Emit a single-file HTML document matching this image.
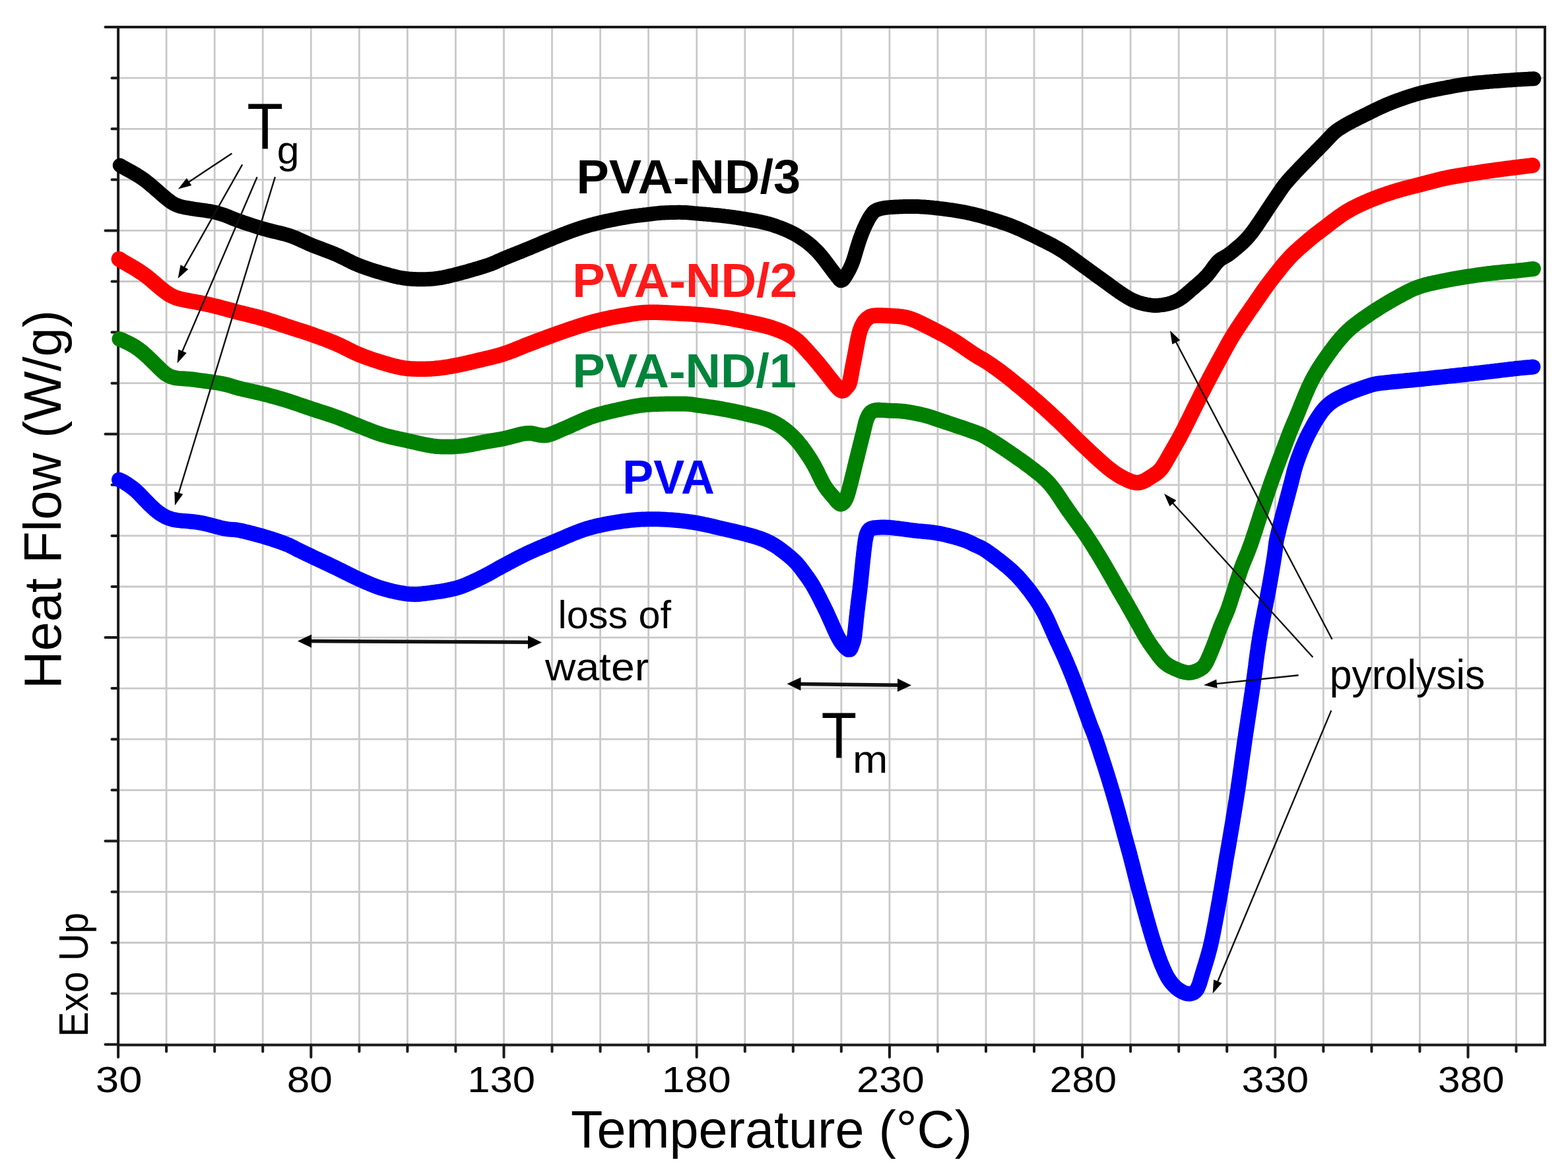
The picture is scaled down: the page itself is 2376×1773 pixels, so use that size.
<!DOCTYPE html><html><head><meta charset="utf-8"><title>DSC curves</title><style>html,body{margin:0;padding:0;background:#fff;overflow:hidden}svg{display:block}</style></head><body><svg xmlns="http://www.w3.org/2000/svg" width="2376" height="1773" viewBox="0 0 2376 1773"><rect width="2376" height="1773" fill="#fff"/><path d="M252.1,41.1V1583.6M325.2,41.1V1583.6M398.2,41.1V1583.6M471.3,41.1V1583.6M544.4,41.1V1583.6M617.4,41.1V1583.6M690.4,41.1V1583.6M763.5,41.1V1583.6M836.5,41.1V1583.6M909.6,41.1V1583.6M982.6,41.1V1583.6M1055.7,41.1V1583.6M1128.8,41.1V1583.6M1201.8,41.1V1583.6M1274.8,41.1V1583.6M1347.9,41.1V1583.6M1420.9,41.1V1583.6M1494.0,41.1V1583.6M1567.0,41.1V1583.6M1640.1,41.1V1583.6M1713.1,41.1V1583.6M1786.2,41.1V1583.6M1859.2,41.1V1583.6M1932.3,41.1V1583.6M2005.3,41.1V1583.6M2078.4,41.1V1583.6M2151.4,41.1V1583.6M2224.5,41.1V1583.6M2297.5,41.1V1583.6M179.1,118.2H2341.0M179.1,195.3H2341.0M179.1,272.3H2341.0M179.1,349.4H2341.0M179.1,426.5H2341.0M179.1,503.6H2341.0M179.1,580.7H2341.0M179.1,657.7H2341.0M179.1,734.8H2341.0M179.1,811.9H2341.0M179.1,889.0H2341.0M179.1,966.1H2341.0M179.1,1043.1H2341.0M179.1,1120.2H2341.0M179.1,1197.3H2341.0M179.1,1274.4H2341.0M179.1,1351.5H2341.0M179.1,1428.5H2341.0M179.1,1505.6H2341.0" stroke="#c9c9c9" stroke-width="2.8" fill="none"/><path d="M159.5,41.1H179.1M169.5,118.2H179.1M169.5,195.3H179.1M169.5,272.3H179.1M159.5,349.4H179.1M169.5,426.5H179.1M169.5,503.6H179.1M169.5,580.7H179.1M159.5,657.7H179.1M169.5,734.8H179.1M169.5,811.9H179.1M169.5,889.0H179.1M159.5,966.1H179.1M169.5,1043.1H179.1M169.5,1120.2H179.1M169.5,1197.3H179.1M159.5,1274.4H179.1M169.5,1351.5H179.1M169.5,1428.5H179.1M169.5,1505.6H179.1M159.5,1582.7H179.1M179.1,1583.6V1602.0M252.1,1583.6V1593.5M325.2,1583.6V1593.5M398.2,1583.6V1593.5M471.3,1583.6V1602.0M544.4,1583.6V1593.5M617.4,1583.6V1593.5M690.4,1583.6V1593.5M763.5,1583.6V1602.0M836.5,1583.6V1593.5M909.6,1583.6V1593.5M982.6,1583.6V1593.5M1055.7,1583.6V1602.0M1128.8,1583.6V1593.5M1201.8,1583.6V1593.5M1274.8,1583.6V1593.5M1347.9,1583.6V1602.0M1420.9,1583.6V1593.5M1494.0,1583.6V1593.5M1567.0,1583.6V1593.5M1640.1,1583.6V1602.0M1713.1,1583.6V1593.5M1786.2,1583.6V1593.5M1859.2,1583.6V1593.5M1932.3,1583.6V1602.0M2005.3,1583.6V1593.5M2078.4,1583.6V1593.5M2151.4,1583.6V1593.5M2224.5,1583.6V1602.0M2297.5,1583.6V1593.5" stroke="#1a1a1a" stroke-width="4" stroke-linecap="round" fill="none"/><path d="M179.1,41.1H2341.0V1583.6H179.1Z" stroke="#1a1a1a" stroke-width="4" fill="none"/><path d="M181.8,250.6 184.4,252.2 187.0,253.7 189.6,255.1 192.2,256.6 194.8,258.0 197.5,259.4 200.1,260.9 202.7,262.3 205.3,263.9 207.9,265.4 210.4,267.0 212.9,268.7 215.4,270.4 217.8,272.1 220.3,273.9 222.6,275.7 225.0,277.5 227.3,279.4 229.6,281.4 231.9,283.3 234.2,285.3 236.4,287.3 238.7,289.2 240.9,291.2 243.2,293.2 245.4,295.2 247.7,297.1 250.0,299.1 252.3,301.0 254.7,302.8 257.0,304.7 259.5,306.4 262.0,308.0 264.6,309.5 267.3,310.7 270.1,311.8 272.9,312.7 275.8,313.4 278.7,314.1 281.7,314.7 284.6,315.2 287.6,315.7 290.5,316.2 293.5,316.7 296.5,317.1 299.4,317.5 302.4,317.9 305.4,318.3 308.4,318.7 311.3,319.1 314.3,319.6 317.3,320.0 320.2,320.6 323.1,321.2 326.1,321.8 329.0,322.6 331.8,323.4 334.7,324.3 337.6,325.2 340.4,326.2 343.2,327.2 346.0,328.3 348.8,329.4 351.6,330.6 354.3,331.7 357.1,332.8 359.9,333.9 362.7,334.9 365.6,335.9 368.4,336.9 371.3,337.8 374.1,338.8 376.9,339.7 379.8,340.7 382.6,341.6 385.5,342.5 388.4,343.4 391.2,344.3 394.1,345.2 397.0,346.1 399.8,346.9 402.7,347.7 405.6,348.5 408.5,349.2 411.5,350.0 414.4,350.7 417.3,351.4 420.2,352.1 423.1,352.8 426.0,353.5 428.9,354.2 431.8,355.0 434.7,355.8 437.6,356.7 440.4,357.7 443.3,358.7 446.0,359.7 448.8,360.9 451.6,362.1 454.3,363.3 457.0,364.6 459.7,365.8 462.5,367.1 465.2,368.3 467.9,369.6 470.7,370.7 473.5,371.9 476.3,373.0 479.1,374.1 481.9,375.1 484.7,376.2 487.5,377.2 490.3,378.3 493.1,379.3 495.9,380.4 498.7,381.5 501.5,382.6 504.3,383.7 507.1,384.8 509.8,386.0 512.6,387.2 515.3,388.5 518.0,389.8 520.7,391.1 523.4,392.4 526.0,393.8 528.7,395.1 531.4,396.5 534.1,397.8 536.8,399.1 539.5,400.3 542.3,401.5 545.1,402.6 547.9,403.7 550.7,404.7 553.5,405.7 556.3,406.7 559.2,407.7 562.0,408.6 564.9,409.5 567.8,410.4 570.6,411.3 573.5,412.1 576.4,413.0 579.3,413.8 582.2,414.6 585.1,415.4 587.9,416.2 590.8,417.0 593.7,417.8 596.7,418.5 599.6,419.2 602.5,419.9 605.4,420.5 608.4,421.0 611.3,421.5 614.3,421.9 617.3,422.3 620.3,422.6 623.2,422.8 626.2,423.0 629.2,423.1 632.2,423.2 635.2,423.3 638.2,423.3 641.2,423.2 644.2,423.2 647.2,423.1 650.2,422.9 653.2,422.7 656.2,422.5 659.2,422.2 662.2,421.8 665.1,421.4 668.1,421.0 671.0,420.4 674.0,419.8 676.9,419.2 679.8,418.5 682.8,417.8 685.7,417.1 688.6,416.4 691.5,415.6 694.4,414.9 697.3,414.1 700.2,413.3 703.1,412.6 706.0,411.8 708.9,411.0 711.8,410.1 714.6,409.3 717.5,408.5 720.4,407.6 723.3,406.8 726.2,405.9 729.0,405.1 731.9,404.2 734.7,403.3 737.6,402.3 740.4,401.4 743.3,400.4 746.1,399.3 748.8,398.2 751.6,397.0 754.3,395.7 757.1,394.5 759.8,393.3 762.5,392.1 765.3,390.9 768.1,389.8 770.9,388.6 773.6,387.5 776.4,386.4 779.2,385.3 782.0,384.2 784.8,383.1 787.6,382.0 790.4,380.9 793.1,379.7 795.9,378.6 798.7,377.5 801.5,376.3 804.2,375.2 807.0,374.0 809.8,372.8 812.5,371.7 815.3,370.5 818.1,369.3 820.8,368.1 823.6,367.0 826.3,365.8 829.1,364.7 831.9,363.5 834.7,362.4 837.4,361.3 840.2,360.1 843.0,359.0 845.8,357.9 848.6,356.8 851.4,355.7 854.2,354.6 857.0,353.6 859.8,352.5 862.6,351.4 865.4,350.4 868.2,349.4 871.1,348.4 873.9,347.4 876.7,346.5 879.6,345.5 882.5,344.6 885.3,343.7 888.2,342.9 891.1,342.0 894.0,341.2 896.9,340.4 899.8,339.7 902.7,338.9 905.6,338.2 908.5,337.5 911.4,336.8 914.3,336.1 917.2,335.4 920.2,334.8 923.1,334.2 926.0,333.6 929.0,333.0 931.9,332.4 934.9,331.8 937.8,331.2 940.8,330.7 943.7,330.2 946.7,329.6 949.6,329.1 952.6,328.6 955.6,328.2 958.5,327.7 961.5,327.3 964.5,326.9 967.4,326.6 970.4,326.2 973.4,325.9 976.4,325.5 979.4,325.2 982.3,324.8 985.3,324.5 988.3,324.1 991.3,323.7 994.3,323.4 997.2,323.1 1000.2,322.8 1003.2,322.6 1006.2,322.5 1009.2,322.3 1012.2,322.2 1015.2,322.1 1018.2,322.0 1021.2,321.9 1024.2,321.9 1027.2,321.8 1030.2,321.8 1033.2,321.9 1036.2,322.0 1039.2,322.1 1042.2,322.3 1045.2,322.6 1048.2,322.8 1051.1,323.1 1054.1,323.4 1057.1,323.6 1060.1,323.9 1063.1,324.1 1066.1,324.4 1069.1,324.6 1072.1,324.9 1075.1,325.1 1078.1,325.4 1081.0,325.7 1084.0,325.9 1087.0,326.2 1090.0,326.5 1093.0,326.9 1096.0,327.2 1098.9,327.6 1101.9,327.9 1104.9,328.3 1107.9,328.7 1110.8,329.1 1113.8,329.5 1116.8,330.0 1119.7,330.4 1122.7,330.9 1125.7,331.3 1128.6,331.8 1131.6,332.3 1134.6,332.8 1137.5,333.3 1140.5,333.8 1143.4,334.4 1146.4,334.9 1149.3,335.5 1152.2,336.1 1155.2,336.8 1158.1,337.4 1161.0,338.2 1163.9,338.9 1166.8,339.7 1169.7,340.6 1172.5,341.5 1175.4,342.5 1178.2,343.5 1181.0,344.5 1183.8,345.6 1186.6,346.7 1189.4,347.8 1192.1,349.0 1194.9,350.2 1197.6,351.5 1200.3,352.8 1202.9,354.2 1205.6,355.6 1208.2,357.1 1210.7,358.7 1213.3,360.3 1215.8,361.9 1218.2,363.6 1220.7,365.4 1223.1,367.2 1225.4,369.0 1227.7,370.9 1230.0,372.9 1232.2,374.9 1234.4,377.0 1236.6,379.1 1238.6,381.2 1240.7,383.4 1242.7,385.7 1244.6,387.9 1246.5,390.3 1248.4,392.6 1250.2,395.0 1252.0,397.4 1253.8,399.8 1255.6,402.2 1257.4,404.6 1259.2,407.0 1261.0,409.4 1262.8,411.8 1264.6,414.2 1266.5,416.5 1268.3,418.9 1270.2,421.2 1272.0,423.6 1274.3,425.3 1276.8,424.5 1278.8,422.3 1280.5,419.8 1282.1,417.3 1283.6,414.7 1285.1,412.1 1286.6,409.5 1287.9,406.8 1289.2,404.1 1290.4,401.4 1291.5,398.6 1292.6,395.8 1293.5,392.9 1294.4,390.1 1295.3,387.2 1296.1,384.3 1297.0,381.5 1297.8,378.6 1298.7,375.7 1299.6,372.8 1300.5,370.0 1301.4,367.1 1302.3,364.3 1303.3,361.4 1304.3,358.6 1305.4,355.8 1306.4,353.0 1307.6,350.2 1308.7,347.5 1309.9,344.7 1311.2,342.0 1312.4,339.3 1313.8,336.6 1315.2,333.9 1316.6,331.3 1318.1,328.7 1319.8,326.2 1321.6,323.8 1323.5,321.5 1325.8,319.6 1328.4,318.2 1331.2,317.2 1334.0,316.3 1337.0,315.7 1339.9,315.2 1342.9,314.7 1345.8,314.4 1348.8,314.1 1351.8,313.9 1354.8,313.7 1357.8,313.5 1360.8,313.4 1363.8,313.3 1366.8,313.2 1369.8,313.1 1372.8,313.0 1375.8,313.0 1378.8,313.0 1381.8,313.0 1384.8,313.0 1387.8,313.0 1390.8,313.1 1393.8,313.2 1396.8,313.4 1399.8,313.5 1402.8,313.8 1405.8,314.0 1408.8,314.3 1411.7,314.5 1414.7,314.9 1417.7,315.2 1420.7,315.5 1423.7,315.9 1426.6,316.2 1429.6,316.6 1432.6,317.0 1435.6,317.4 1438.5,317.8 1441.5,318.2 1444.5,318.7 1447.4,319.1 1450.4,319.6 1453.4,320.1 1456.3,320.6 1459.3,321.2 1462.2,321.7 1465.2,322.3 1468.1,322.9 1471.0,323.6 1473.9,324.3 1476.9,325.0 1479.8,325.7 1482.7,326.4 1485.6,327.2 1488.5,328.0 1491.3,328.8 1494.2,329.7 1497.1,330.5 1500.0,331.4 1502.9,332.2 1505.7,333.1 1508.6,334.0 1511.4,334.9 1514.3,335.8 1517.2,336.8 1520.0,337.7 1522.8,338.7 1525.7,339.7 1528.5,340.7 1531.3,341.7 1534.1,342.8 1536.9,343.9 1539.7,345.1 1542.4,346.2 1545.2,347.4 1547.9,348.7 1550.6,349.9 1553.4,351.2 1556.1,352.5 1558.8,353.8 1561.5,355.1 1564.2,356.4 1566.9,357.7 1569.5,359.0 1572.2,360.4 1574.9,361.7 1577.6,363.0 1580.3,364.3 1583.0,365.6 1585.7,367.0 1588.4,368.3 1591.0,369.7 1593.7,371.1 1596.3,372.5 1599.0,374.0 1601.6,375.5 1604.2,377.0 1606.7,378.5 1609.3,380.1 1611.8,381.7 1614.3,383.4 1616.8,385.1 1619.2,386.8 1621.7,388.6 1624.1,390.3 1626.5,392.1 1628.9,393.9 1631.3,395.7 1633.8,397.4 1636.2,399.2 1638.6,401.0 1641.0,402.7 1643.5,404.5 1645.9,406.3 1648.3,408.0 1650.7,409.8 1653.2,411.6 1655.6,413.3 1658.0,415.1 1660.4,416.9 1662.9,418.6 1665.3,420.4 1667.7,422.1 1670.2,423.9 1672.6,425.6 1675.0,427.4 1677.5,429.1 1679.9,430.9 1682.3,432.7 1684.7,434.4 1687.2,436.2 1689.6,438.0 1692.0,439.7 1694.5,441.4 1696.9,443.2 1699.4,444.8 1701.9,446.5 1704.4,448.1 1707.0,449.7 1709.6,451.2 1712.2,452.7 1714.8,454.1 1717.6,455.3 1720.3,456.5 1723.1,457.6 1725.9,458.6 1728.8,459.4 1731.7,460.2 1734.6,460.9 1737.6,461.5 1740.5,462.0 1743.5,462.4 1746.4,462.7 1749.4,462.9 1752.4,462.9 1755.4,462.7 1758.4,462.4 1761.4,462.1 1764.3,461.6 1767.3,461.0 1770.2,460.4 1773.1,459.6 1775.9,458.7 1778.7,457.7 1781.5,456.5 1784.2,455.2 1786.8,453.7 1789.3,452.1 1791.7,450.4 1794.1,448.6 1796.4,446.7 1798.7,444.7 1801.0,442.8 1803.2,440.8 1805.5,438.8 1807.8,436.9 1810.1,434.9 1812.3,433.0 1814.6,431.0 1816.9,429.1 1819.1,427.1 1821.4,425.1 1823.6,423.0 1825.7,420.9 1827.8,418.8 1829.8,416.6 1831.7,414.3 1833.6,411.9 1835.4,409.5 1837.1,407.1 1838.9,404.7 1840.6,402.2 1842.5,399.9 1844.4,397.6 1846.5,395.5 1848.7,393.6 1851.2,391.9 1853.7,390.5 1856.3,389.0 1858.9,387.5 1861.4,385.9 1863.8,384.1 1866.2,382.3 1868.5,380.4 1870.8,378.5 1873.1,376.6 1875.4,374.6 1877.7,372.7 1880.0,370.7 1882.2,368.7 1884.4,366.6 1886.5,364.5 1888.6,362.3 1890.6,360.1 1892.6,357.9 1894.5,355.6 1896.4,353.2 1898.2,350.8 1899.9,348.4 1901.7,346.0 1903.4,343.5 1905.1,341.1 1906.8,338.6 1908.5,336.1 1910.1,333.6 1911.8,331.1 1913.5,328.6 1915.1,326.1 1916.8,323.6 1918.4,321.1 1920.1,318.6 1921.7,316.1 1923.4,313.6 1925.1,311.1 1926.7,308.6 1928.4,306.1 1930.1,303.6 1931.8,301.2 1933.5,298.7 1935.2,296.2 1936.8,293.7 1938.5,291.2 1940.2,288.7 1941.9,286.2 1943.6,283.8 1945.4,281.4 1947.3,279.1 1949.2,276.7 1951.1,274.5 1953.1,272.2 1955.1,270.0 1957.1,267.7 1959.1,265.5 1961.2,263.3 1963.2,261.2 1965.3,259.0 1967.4,256.8 1969.4,254.6 1971.5,252.5 1973.6,250.3 1975.7,248.2 1977.8,246.0 1979.9,243.9 1982.0,241.7 1984.1,239.6 1986.2,237.4 1988.3,235.3 1990.4,233.2 1992.5,231.0 1994.6,228.9 1996.7,226.8 1998.8,224.6 2000.9,222.5 2003.0,220.4 2005.2,218.2 2007.2,216.1 2009.3,213.9 2011.4,211.7 2013.4,209.5 2015.4,207.3 2017.5,205.1 2019.6,203.0 2021.8,201.0 2024.1,199.1 2026.5,197.3 2028.9,195.5 2031.4,193.9 2034.0,192.3 2036.5,190.7 2039.1,189.2 2041.8,187.8 2044.4,186.4 2047.0,184.9 2049.7,183.6 2052.4,182.2 2055.0,180.8 2057.7,179.5 2060.4,178.1 2063.1,176.8 2065.8,175.5 2068.5,174.1 2071.2,172.8 2073.9,171.5 2076.5,170.2 2079.2,168.8 2081.9,167.5 2084.6,166.2 2087.3,164.9 2090.0,163.6 2092.7,162.3 2095.5,161.1 2098.2,159.9 2101.0,158.7 2103.7,157.5 2106.5,156.4 2109.3,155.3 2112.1,154.2 2114.9,153.2 2117.7,152.1 2120.6,151.1 2123.4,150.1 2126.2,149.1 2129.0,148.1 2131.9,147.2 2134.7,146.2 2137.6,145.3 2140.5,144.4 2143.3,143.5 2146.2,142.7 2149.1,141.8 2152.0,141.0 2154.9,140.3 2157.8,139.6 2160.7,138.9 2163.6,138.2 2166.6,137.6 2169.5,136.9 2172.4,136.4 2175.4,135.8 2178.3,135.2 2181.3,134.7 2184.2,134.1 2187.2,133.5 2190.1,133.0 2193.1,132.4 2196.0,131.8 2199.0,131.3 2201.9,130.7 2204.9,130.2 2207.8,129.7 2210.8,129.2 2213.7,128.7 2216.7,128.2 2219.6,127.7 2222.6,127.3 2225.6,126.9 2228.6,126.5 2231.5,126.2 2234.5,125.8 2237.5,125.5 2240.5,125.2 2243.5,124.9 2246.5,124.7 2249.5,124.4 2252.4,124.1 2255.4,123.9 2258.4,123.6 2261.4,123.4 2264.4,123.1 2267.4,122.9 2270.4,122.7 2273.4,122.4 2276.4,122.2 2279.4,122.0 2282.4,121.8 2285.3,121.6 2288.3,121.4 2291.3,121.2 2294.3,121.0 2297.3,120.8 2300.3,120.6 2303.3,120.4 2306.3,120.2 2309.3,120.1 2312.3,119.9 2315.3,119.8 2318.3,119.6 2321.3,119.5 2324.3,119.3" stroke="#000000" stroke-width="22" stroke-linecap="round" stroke-linejoin="round" fill="none"/><path d="M180.3,392.5 182.8,394.1 185.4,395.7 187.9,397.3 190.5,398.8 193.1,400.3 195.7,401.8 198.3,403.2 200.9,404.7 203.5,406.3 206.1,407.8 208.6,409.4 211.1,411.0 213.6,412.7 216.1,414.4 218.6,416.1 221.0,417.9 223.3,419.7 225.7,421.6 228.0,423.5 230.3,425.5 232.5,427.4 234.8,429.4 237.1,431.3 239.4,433.3 241.7,435.2 244.0,437.1 246.3,439.0 248.7,440.9 251.1,442.7 253.5,444.4 256.0,446.0 258.6,447.5 261.3,448.9 264.0,450.1 266.8,451.2 269.6,452.1 272.5,452.9 275.4,453.6 278.4,454.2 281.3,454.8 284.2,455.4 287.2,455.9 290.1,456.5 293.1,457.0 296.0,457.5 299.0,458.1 301.9,458.6 304.9,459.2 307.8,459.8 310.8,460.4 313.7,461.0 316.6,461.7 319.5,462.4 322.5,463.1 325.4,463.8 328.3,464.5 331.2,465.2 334.1,466.0 337.0,466.8 339.9,467.5 342.8,468.3 345.7,469.1 348.6,469.9 351.5,470.7 354.4,471.5 357.3,472.3 360.2,473.0 363.1,473.8 366.0,474.5 368.9,475.2 371.8,475.9 374.7,476.6 377.6,477.3 380.6,478.0 383.5,478.8 386.4,479.5 389.3,480.2 392.2,481.0 395.1,481.8 398.0,482.6 400.8,483.4 403.7,484.3 406.6,485.2 409.5,486.1 412.3,487.0 415.2,487.9 418.0,488.9 420.9,489.8 423.7,490.8 426.5,491.7 429.4,492.7 432.2,493.6 435.1,494.6 437.9,495.5 440.8,496.4 443.6,497.4 446.5,498.3 449.4,499.2 452.2,500.1 455.1,501.0 457.9,501.9 460.8,502.8 463.6,503.7 466.5,504.7 469.3,505.7 472.2,506.7 475.0,507.6 477.8,508.7 480.6,509.7 483.5,510.7 486.3,511.7 489.1,512.8 491.9,513.8 494.7,514.9 497.5,516.0 500.3,517.1 503.1,518.2 505.9,519.3 508.6,520.5 511.4,521.7 514.1,522.9 516.8,524.2 519.5,525.5 522.2,526.8 524.9,528.2 527.6,529.5 530.2,530.9 532.9,532.2 535.6,533.5 538.3,534.8 541.1,536.0 543.8,537.2 546.6,538.3 549.4,539.4 552.2,540.5 555.0,541.5 557.8,542.5 560.7,543.5 563.5,544.5 566.4,545.5 569.2,546.4 572.1,547.3 574.9,548.3 577.8,549.1 580.6,550.0 583.5,550.9 586.4,551.7 589.3,552.5 592.2,553.3 595.1,554.1 598.0,554.8 600.9,555.5 603.8,556.2 606.8,556.8 609.7,557.3 612.7,557.8 615.6,558.2 618.6,558.5 621.6,558.8 624.6,559.0 627.6,559.1 630.6,559.2 633.6,559.3 636.6,559.3 639.6,559.3 642.6,559.3 645.6,559.2 648.6,559.1 651.6,558.9 654.6,558.8 657.6,558.6 660.6,558.3 663.5,558.0 666.5,557.7 669.5,557.3 672.5,556.9 675.4,556.5 678.4,556.0 681.4,555.5 684.3,554.9 687.3,554.4 690.2,553.8 693.1,553.3 696.1,552.7 699.0,552.1 702.0,551.4 704.9,550.8 707.8,550.2 710.7,549.5 713.7,548.8 716.6,548.1 719.5,547.4 722.4,546.7 725.3,546.0 728.3,545.3 731.2,544.6 734.1,543.9 737.0,543.2 739.9,542.6 742.8,541.9 745.8,541.1 748.7,540.4 751.6,539.7 754.5,538.9 757.4,538.0 760.2,537.2 763.1,536.3 765.9,535.3 768.8,534.4 771.6,533.3 774.4,532.3 777.2,531.2 780.0,530.1 782.8,528.9 785.5,527.8 788.3,526.7 791.1,525.6 793.9,524.4 796.7,523.3 799.5,522.2 802.3,521.1 805.1,520.1 807.9,519.0 810.7,517.9 813.5,516.9 816.3,515.8 819.1,514.8 821.9,513.7 824.7,512.7 827.5,511.6 830.3,510.6 833.2,509.6 836.0,508.5 838.8,507.5 841.6,506.5 844.4,505.5 847.3,504.5 850.1,503.5 852.9,502.5 855.8,501.5 858.6,500.5 861.4,499.5 864.3,498.6 867.1,497.6 870.0,496.7 872.8,495.7 875.7,494.8 878.5,493.9 881.4,493.0 884.2,492.1 887.1,491.2 890.0,490.4 892.9,489.5 895.8,488.7 898.6,487.9 901.5,487.1 904.4,486.4 907.4,485.6 910.3,484.9 913.2,484.2 916.1,483.6 919.0,482.9 922.0,482.3 924.9,481.6 927.8,481.0 930.8,480.5 933.7,479.9 936.7,479.3 939.6,478.8 942.6,478.3 945.5,477.8 948.5,477.3 951.5,476.8 954.4,476.3 957.4,475.8 960.3,475.4 963.3,475.0 966.3,474.6 969.3,474.2 972.3,473.9 975.2,473.7 978.2,473.5 981.2,473.4 984.2,473.3 987.2,473.2 990.2,473.2 993.2,473.3 996.2,473.3 999.2,473.4 1002.2,473.5 1005.2,473.7 1008.2,473.8 1011.2,474.0 1014.2,474.1 1017.2,474.3 1020.2,474.5 1023.2,474.6 1026.2,474.8 1029.2,474.9 1032.2,475.1 1035.2,475.2 1038.2,475.4 1041.2,475.5 1044.2,475.7 1047.2,475.9 1050.1,476.1 1053.1,476.3 1056.1,476.6 1059.1,476.8 1062.1,477.0 1065.1,477.3 1068.1,477.6 1071.1,477.8 1074.1,478.1 1077.0,478.4 1080.0,478.8 1083.0,479.1 1086.0,479.5 1089.0,479.9 1091.9,480.3 1094.9,480.8 1097.9,481.2 1100.8,481.7 1103.8,482.2 1106.7,482.7 1109.7,483.2 1112.6,483.8 1115.6,484.3 1118.5,484.9 1121.5,485.5 1124.4,486.1 1127.4,486.7 1130.3,487.3 1133.2,487.9 1136.2,488.5 1139.1,489.1 1142.0,489.7 1145.0,490.4 1147.9,491.0 1150.8,491.7 1153.7,492.3 1156.7,493.1 1159.6,493.8 1162.5,494.6 1165.3,495.4 1168.2,496.3 1171.1,497.2 1173.9,498.2 1176.7,499.2 1179.5,500.3 1182.3,501.4 1185.1,502.5 1187.8,503.7 1190.5,505.0 1193.2,506.3 1195.9,507.7 1198.5,509.2 1201.0,510.8 1203.5,512.5 1205.9,514.3 1208.2,516.2 1210.5,518.2 1212.6,520.2 1214.7,522.4 1216.8,524.6 1218.8,526.8 1220.8,529.0 1222.8,531.2 1224.8,533.4 1226.8,535.7 1228.8,537.9 1230.8,540.1 1232.8,542.4 1234.8,544.7 1236.7,547.0 1238.6,549.2 1240.6,551.6 1242.5,553.9 1244.4,556.2 1246.2,558.5 1248.1,560.9 1250.0,563.2 1251.8,565.6 1253.7,568.0 1255.5,570.3 1257.4,572.7 1259.2,575.0 1261.1,577.4 1263.0,579.7 1264.9,582.1 1266.8,584.4 1268.7,586.6 1270.8,588.8 1273.1,590.8 1275.6,592.2 1278.3,591.7 1280.5,589.7 1282.4,587.4 1284.4,585.3 1286.1,583.0 1287.2,580.3 1288.0,577.4 1288.6,574.5 1289.1,571.6 1289.7,568.6 1290.2,565.7 1290.7,562.7 1291.3,559.8 1291.8,556.8 1292.4,553.9 1293.0,550.9 1293.6,548.0 1294.1,545.1 1294.7,542.1 1295.3,539.2 1295.8,536.2 1296.4,533.3 1296.9,530.3 1297.5,527.4 1298.0,524.4 1298.6,521.5 1299.1,518.5 1299.7,515.6 1300.3,512.6 1301.0,509.7 1301.6,506.8 1302.4,503.9 1303.2,501.0 1304.2,498.2 1305.3,495.4 1306.6,492.7 1308.0,490.1 1309.6,487.6 1311.5,485.2 1313.6,483.1 1316.0,481.3 1318.5,479.7 1321.4,478.8 1324.3,478.3 1327.3,478.1 1330.3,478.0 1333.3,478.0 1336.3,478.1 1339.3,478.2 1342.3,478.3 1345.3,478.5 1348.3,478.6 1351.3,478.8 1354.3,478.9 1357.2,479.1 1360.2,479.3 1363.2,479.6 1366.2,479.9 1369.2,480.4 1372.1,481.0 1375.0,481.7 1377.9,482.5 1380.7,483.4 1383.5,484.5 1386.3,485.6 1389.0,486.8 1391.8,488.1 1394.5,489.3 1397.2,490.6 1399.9,492.0 1402.6,493.3 1405.3,494.7 1407.9,496.0 1410.6,497.4 1413.3,498.7 1415.9,500.1 1418.6,501.5 1421.3,502.9 1423.9,504.3 1426.6,505.6 1429.2,507.0 1431.9,508.4 1434.5,509.9 1437.1,511.4 1439.7,512.9 1442.3,514.4 1444.9,516.0 1447.4,517.6 1449.9,519.2 1452.4,520.9 1454.9,522.5 1457.4,524.2 1459.9,525.9 1462.3,527.6 1464.8,529.3 1467.3,531.0 1469.8,532.7 1472.2,534.4 1474.7,536.1 1477.2,537.7 1479.8,539.3 1482.3,540.9 1484.9,542.3 1487.6,543.8 1490.2,545.3 1492.7,546.8 1495.3,548.4 1497.8,550.1 1500.2,551.7 1502.7,553.4 1505.2,555.2 1507.6,556.9 1510.1,558.6 1512.5,560.4 1514.9,562.2 1517.3,563.9 1519.7,565.8 1522.1,567.6 1524.5,569.4 1526.8,571.3 1529.2,573.1 1531.5,575.0 1533.9,576.9 1536.2,578.8 1538.5,580.7 1540.8,582.6 1543.2,584.5 1545.5,586.4 1547.8,588.3 1550.1,590.2 1552.4,592.1 1554.7,594.1 1557.0,596.0 1559.3,597.9 1561.6,599.9 1563.8,601.8 1566.1,603.8 1568.4,605.8 1570.6,607.7 1572.9,609.7 1575.1,611.7 1577.4,613.7 1579.6,615.7 1581.9,617.7 1584.1,619.7 1586.3,621.7 1588.5,623.7 1590.7,625.8 1592.9,627.8 1595.1,629.9 1597.3,631.9 1599.5,634.0 1601.7,636.0 1603.9,638.1 1606.0,640.1 1608.2,642.2 1610.3,644.3 1612.5,646.4 1614.6,648.5 1616.7,650.7 1618.9,652.8 1621.0,654.9 1623.1,657.0 1625.2,659.1 1627.4,661.2 1629.5,663.4 1631.6,665.5 1633.8,667.5 1636.0,669.6 1638.1,671.7 1640.3,673.8 1642.5,675.8 1644.7,677.9 1646.9,679.9 1649.0,682.0 1651.2,684.0 1653.4,686.1 1655.6,688.1 1657.8,690.2 1660.0,692.2 1662.2,694.2 1664.4,696.2 1666.7,698.3 1668.9,700.3 1671.2,702.2 1673.4,704.2 1675.7,706.2 1678.0,708.1 1680.3,710.0 1682.7,711.8 1685.1,713.7 1687.5,715.4 1690.0,717.1 1692.5,718.8 1695.0,720.3 1697.6,721.9 1700.2,723.3 1702.9,724.7 1705.6,726.0 1708.3,727.3 1711.0,728.5 1713.8,729.6 1716.6,730.5 1719.5,731.1 1722.4,731.5 1725.3,731.4 1728.2,730.9 1731.0,730.0 1733.7,728.8 1736.4,727.5 1738.9,725.9 1741.5,724.3 1744.0,722.7 1746.5,721.1 1749.0,719.5 1751.5,717.8 1753.9,716.0 1756.1,714.1 1758.2,711.9 1760.1,709.7 1761.9,707.2 1763.5,704.7 1765.1,702.2 1766.6,699.6 1768.0,697.0 1769.5,694.4 1771.0,691.7 1772.5,689.1 1774.0,686.5 1775.5,683.9 1777.0,681.3 1778.5,678.7 1780.0,676.1 1781.4,673.5 1782.9,670.9 1784.4,668.3 1785.9,665.7 1787.3,663.1 1788.7,660.4 1790.1,657.8 1791.5,655.1 1792.9,652.5 1794.3,649.8 1795.6,647.1 1797.0,644.4 1798.3,641.7 1799.6,639.0 1801.0,636.3 1802.3,633.7 1803.6,631.0 1804.9,628.3 1806.3,625.6 1807.6,622.9 1808.9,620.2 1810.3,617.5 1811.6,614.8 1812.9,612.1 1814.3,609.5 1815.6,606.8 1816.9,604.1 1818.3,601.4 1819.6,598.7 1820.9,596.0 1822.3,593.3 1823.6,590.7 1825.0,588.0 1826.3,585.3 1827.7,582.6 1829.1,580.0 1830.5,577.3 1831.9,574.7 1833.3,572.0 1834.7,569.3 1836.1,566.7 1837.5,564.1 1838.9,561.4 1840.3,558.8 1841.7,556.1 1843.2,553.5 1844.6,550.9 1846.0,548.2 1847.5,545.6 1848.9,543.0 1850.4,540.3 1851.8,537.7 1853.2,535.1 1854.7,532.4 1856.1,529.8 1857.5,527.2 1859.0,524.5 1860.4,521.9 1861.9,519.3 1863.4,516.7 1864.9,514.1 1866.4,511.5 1868.0,508.9 1869.6,506.4 1871.1,503.8 1872.8,501.3 1874.4,498.8 1876.0,496.3 1877.7,493.8 1879.3,491.3 1881.0,488.8 1882.7,486.3 1884.4,483.8 1886.1,481.4 1887.8,478.9 1889.5,476.4 1891.2,474.0 1892.9,471.5 1894.6,469.0 1896.3,466.6 1898.1,464.1 1899.8,461.6 1901.5,459.2 1903.2,456.7 1904.9,454.2 1906.6,451.8 1908.3,449.3 1910.0,446.8 1911.7,444.4 1913.4,441.9 1915.1,439.4 1916.9,437.0 1918.6,434.6 1920.4,432.1 1922.2,429.7 1924.0,427.3 1925.8,425.0 1927.6,422.6 1929.5,420.2 1931.3,417.8 1933.1,415.5 1935.0,413.1 1936.9,410.7 1938.7,408.4 1940.6,406.0 1942.5,403.7 1944.4,401.4 1946.3,399.1 1948.3,396.8 1950.3,394.6 1952.3,392.4 1954.3,390.1 1956.4,388.0 1958.5,385.8 1960.6,383.7 1962.8,381.7 1965.0,379.6 1967.2,377.6 1969.4,375.6 1971.7,373.6 1974.0,371.7 1976.2,369.7 1978.5,367.8 1980.8,365.8 1983.1,363.9 1985.4,362.0 1987.7,360.0 1990.0,358.1 1992.3,356.2 1994.7,354.4 1997.1,352.6 1999.5,350.8 2001.9,349.0 2004.3,347.2 2006.7,345.4 2009.1,343.6 2011.4,341.7 2013.8,339.9 2016.2,338.0 2018.6,336.2 2021.0,334.4 2023.4,332.6 2025.8,330.8 2028.2,329.0 2030.6,327.3 2033.1,325.6 2035.6,323.9 2038.1,322.3 2040.6,320.7 2043.2,319.2 2045.8,317.7 2048.4,316.2 2051.1,314.8 2053.8,313.5 2056.5,312.1 2059.2,310.8 2061.9,309.6 2064.6,308.3 2067.4,307.1 2070.1,305.9 2072.9,304.8 2075.6,303.6 2078.4,302.4 2081.2,301.3 2084.0,300.2 2086.8,299.1 2089.6,298.1 2092.4,297.0 2095.2,296.0 2098.1,295.0 2100.9,294.1 2103.7,293.1 2106.6,292.2 2109.4,291.3 2112.3,290.4 2115.2,289.5 2118.0,288.6 2120.9,287.8 2123.8,287.0 2126.7,286.2 2129.6,285.4 2132.5,284.7 2135.4,283.9 2138.3,283.2 2141.2,282.4 2144.1,281.7 2147.1,281.0 2150.0,280.2 2152.9,279.5 2155.8,278.7 2158.7,277.9 2161.6,277.2 2164.5,276.4 2167.4,275.6 2170.3,274.9 2173.2,274.1 2176.1,273.4 2179.0,272.6 2181.9,271.9 2184.8,271.2 2187.7,270.5 2190.7,269.9 2193.6,269.3 2196.5,268.7 2199.5,268.1 2202.4,267.6 2205.4,267.1 2208.3,266.6 2211.3,266.1 2214.3,265.6 2217.2,265.1 2220.2,264.7 2223.2,264.2 2226.1,263.7 2229.1,263.2 2232.0,262.7 2235.0,262.3 2238.0,261.8 2240.9,261.3 2243.9,260.9 2246.9,260.4 2249.8,260.0 2252.8,259.5 2255.8,259.1 2258.7,258.7 2261.7,258.3 2264.7,257.9 2267.6,257.5 2270.6,257.1 2273.6,256.7 2276.6,256.3 2279.5,255.9 2282.5,255.5 2285.5,255.1 2288.5,254.8 2291.5,254.4 2294.4,254.0 2297.4,253.6 2300.4,253.3 2303.4,252.9 2306.3,252.5 2309.3,252.2 2312.3,251.8 2315.3,251.4 2318.2,251.1 2321.2,250.7 2322.2,250.6" stroke="#ff0000" stroke-width="23.5" stroke-linecap="round" stroke-linejoin="round" fill="none"/><path d="M181.0,513.7 183.8,514.9 186.5,516.1 189.2,517.3 191.9,518.6 194.6,519.9 197.3,521.3 200.0,522.7 202.6,524.2 205.1,525.7 207.6,527.4 210.0,529.1 212.4,531.0 214.8,532.8 217.1,534.8 219.3,536.7 221.6,538.7 223.8,540.7 226.0,542.8 228.1,544.9 230.3,547.0 232.4,549.1 234.5,551.2 236.7,553.3 238.8,555.4 240.9,557.5 243.1,559.6 245.3,561.7 247.5,563.7 249.8,565.6 252.2,567.3 254.7,568.9 257.4,570.2 260.1,571.2 263.0,572.0 265.9,572.7 268.9,573.1 271.9,573.4 274.8,573.6 277.8,573.8 280.8,574.0 283.8,574.2 286.8,574.4 289.8,574.7 292.8,575.0 295.7,575.4 298.7,575.9 301.7,576.3 304.7,576.7 307.6,577.1 310.6,577.5 313.6,577.9 316.6,578.3 319.5,578.7 322.5,579.1 325.5,579.5 328.4,580.0 331.4,580.5 334.3,581.0 337.3,581.6 340.2,582.2 343.1,582.9 346.0,583.7 348.9,584.5 351.7,585.4 354.6,586.3 357.5,587.2 360.4,588.0 363.3,588.7 366.2,589.4 369.1,590.1 372.0,590.8 375.0,591.4 377.9,592.1 380.8,592.7 383.8,593.4 386.7,594.0 389.6,594.7 392.5,595.4 395.4,596.1 398.4,596.8 401.3,597.5 404.2,598.2 407.1,599.0 410.0,599.8 412.9,600.6 415.8,601.4 418.7,602.2 421.5,603.0 424.4,603.8 427.3,604.7 430.2,605.5 433.0,606.4 435.9,607.3 438.8,608.2 441.6,609.1 444.5,610.1 447.3,611.0 450.1,612.0 453.0,613.0 455.8,614.0 458.7,614.9 461.5,615.9 464.3,616.9 467.2,617.9 470.0,618.8 472.9,619.8 475.7,620.7 478.6,621.6 481.4,622.6 484.3,623.5 487.1,624.4 490.0,625.3 492.8,626.2 495.7,627.1 498.5,628.1 501.4,629.0 504.2,630.0 507.1,631.0 509.9,632.0 512.7,633.0 515.5,634.1 518.3,635.2 521.1,636.3 523.9,637.4 526.6,638.5 529.4,639.7 532.2,640.8 535.0,642.0 537.8,643.1 540.5,644.2 543.3,645.3 546.1,646.4 548.9,647.5 551.7,648.6 554.5,649.7 557.3,650.8 560.1,651.9 562.9,653.0 565.7,654.1 568.5,655.1 571.3,656.1 574.2,657.1 577.0,658.0 579.9,658.9 582.7,659.7 585.6,660.5 588.5,661.3 591.5,662.0 594.4,662.7 597.3,663.4 600.2,664.0 603.2,664.7 606.1,665.3 609.0,665.9 612.0,666.6 614.9,667.2 617.8,667.9 620.7,668.5 623.7,669.2 626.6,669.9 629.5,670.6 632.4,671.2 635.3,671.9 638.3,672.6 641.2,673.2 644.1,673.8 647.1,674.4 650.0,674.9 653.0,675.4 656.0,675.9 658.9,676.2 661.9,676.5 664.9,676.7 667.9,676.9 670.9,677.0 673.9,677.0 676.9,677.0 679.9,677.0 682.9,677.0 685.9,676.9 688.9,676.8 691.9,676.6 694.9,676.4 697.9,676.1 700.8,675.8 703.8,675.4 706.8,675.0 709.7,674.5 712.7,673.9 715.6,673.4 718.6,672.8 721.5,672.2 724.5,671.6 727.4,671.0 730.3,670.5 733.3,669.9 736.3,669.4 739.2,668.9 742.2,668.4 745.1,667.9 748.1,667.4 751.1,666.9 754.0,666.4 757.0,665.9 759.9,665.3 762.8,664.7 765.8,664.1 768.7,663.4 771.6,662.7 774.5,661.9 777.4,661.1 780.3,660.4 783.2,659.6 786.1,658.8 789.0,658.1 791.9,657.5 794.9,657.0 797.9,656.6 800.9,656.4 803.9,656.5 806.8,656.9 809.8,657.5 812.7,658.2 815.6,658.8 818.6,659.3 821.5,659.7 824.5,659.9 827.5,659.7 830.5,659.1 833.3,658.3 836.2,657.3 839.0,656.2 841.7,655.1 844.5,653.9 847.3,652.7 850.0,651.5 852.8,650.3 855.5,649.2 858.3,648.0 861.0,646.8 863.8,645.6 866.5,644.3 869.2,643.1 872.0,641.9 874.7,640.6 877.4,639.4 880.2,638.1 882.9,636.9 885.7,635.8 888.4,634.6 891.2,633.5 894.0,632.4 896.9,631.4 899.7,630.5 902.6,629.6 905.4,628.7 908.3,627.9 911.2,627.1 914.1,626.3 917.0,625.5 919.9,624.8 922.8,624.1 925.7,623.4 928.7,622.7 931.6,622.0 934.5,621.4 937.4,620.7 940.4,620.1 943.3,619.4 946.2,618.8 949.2,618.2 952.1,617.6 955.0,617.0 958.0,616.4 960.9,615.8 963.9,615.3 966.8,614.8 969.8,614.4 972.8,614.0 975.8,613.7 978.8,613.4 981.7,613.2 984.7,613.0 987.7,612.8 990.7,612.6 993.7,612.5 996.7,612.4 999.7,612.3 1002.7,612.3 1005.7,612.2 1008.7,612.1 1011.7,612.1 1014.7,612.0 1017.7,612.0 1020.7,612.0 1023.7,612.0 1026.7,612.0 1029.7,612.0 1032.7,612.0 1035.7,612.0 1038.7,612.0 1041.7,612.2 1044.7,612.4 1047.7,612.7 1050.6,613.1 1053.6,613.6 1056.5,614.1 1059.5,614.5 1062.5,614.9 1065.5,615.3 1068.4,615.7 1071.4,616.1 1074.4,616.6 1077.3,617.0 1080.3,617.4 1083.3,617.9 1086.2,618.4 1089.2,618.9 1092.1,619.4 1095.1,619.9 1098.0,620.5 1101.0,621.0 1103.9,621.6 1106.9,622.2 1109.8,622.8 1112.8,623.4 1115.7,624.0 1118.6,624.6 1121.6,625.3 1124.5,626.0 1127.4,626.6 1130.3,627.3 1133.2,628.0 1136.2,628.7 1139.1,629.4 1142.0,630.0 1144.9,630.7 1147.8,631.4 1150.8,632.2 1153.6,633.0 1156.5,633.8 1159.4,634.7 1162.2,635.7 1165.0,636.7 1167.8,637.9 1170.5,639.1 1173.2,640.4 1175.8,641.8 1178.4,643.3 1181.0,644.9 1183.5,646.5 1186.0,648.2 1188.4,650.0 1190.8,651.8 1193.1,653.7 1195.4,655.7 1197.6,657.7 1199.8,659.7 1202.0,661.8 1204.0,663.9 1206.1,666.1 1208.1,668.4 1210.0,670.7 1211.9,673.0 1213.8,675.4 1215.6,677.7 1217.4,680.2 1219.1,682.6 1220.8,685.0 1222.5,687.5 1224.2,690.0 1225.8,692.5 1227.5,695.0 1229.1,697.6 1230.6,700.1 1232.1,702.7 1233.6,705.3 1235.0,708.0 1236.4,710.6 1237.8,713.3 1239.1,716.0 1240.4,718.7 1241.7,721.4 1243.0,724.1 1244.4,726.8 1245.7,729.5 1247.1,732.1 1248.6,734.7 1250.2,737.3 1251.9,739.7 1253.6,742.2 1255.5,744.5 1257.4,746.8 1259.3,749.1 1261.3,751.3 1263.3,753.6 1265.2,755.9 1267.1,758.3 1269.0,760.6 1271.2,762.6 1273.8,763.9 1276.5,763.1 1278.7,761.2 1280.4,758.7 1281.8,756.1 1283.0,753.4 1284.1,750.6 1284.9,747.7 1285.8,744.8 1286.5,741.9 1287.3,739.0 1288.1,736.1 1288.8,733.2 1289.6,730.3 1290.3,727.4 1291.0,724.5 1291.7,721.6 1292.4,718.7 1293.2,715.8 1293.9,712.8 1294.6,709.9 1295.3,707.0 1296.0,704.1 1296.7,701.2 1297.4,698.3 1298.2,695.4 1298.9,692.5 1299.6,689.5 1300.3,686.6 1301.0,683.7 1301.8,680.8 1302.5,677.9 1303.2,675.0 1303.9,672.1 1304.7,669.2 1305.4,666.3 1306.1,663.3 1306.9,660.4 1307.6,657.5 1308.3,654.6 1309.0,651.7 1309.7,648.8 1310.4,645.8 1311.1,642.9 1311.8,640.0 1312.7,637.2 1313.7,634.3 1314.9,631.6 1316.3,629.0 1318.0,626.5 1320.0,624.3 1322.6,622.9 1325.4,621.9 1328.4,621.5 1331.4,621.3 1334.4,621.4 1337.4,621.6 1340.4,621.8 1343.4,622.0 1346.3,622.2 1349.3,622.3 1352.3,622.4 1355.3,622.5 1358.3,622.6 1361.3,622.7 1364.3,622.9 1367.3,623.2 1370.3,623.5 1373.3,623.9 1376.2,624.4 1379.2,624.9 1382.1,625.4 1385.1,625.9 1388.0,626.5 1391.0,627.1 1393.9,627.7 1396.8,628.4 1399.7,629.1 1402.6,629.9 1405.5,630.7 1408.4,631.5 1411.3,632.4 1414.1,633.4 1416.9,634.4 1419.8,635.3 1422.6,636.3 1425.5,637.2 1428.3,638.2 1431.2,639.1 1434.0,640.1 1436.9,641.0 1439.7,642.0 1442.5,642.9 1445.4,643.9 1448.2,644.9 1451.1,645.8 1453.9,646.8 1456.8,647.7 1459.6,648.7 1462.4,649.7 1465.3,650.7 1468.1,651.6 1470.9,652.6 1473.8,653.6 1476.6,654.6 1479.4,655.6 1482.2,656.7 1485.0,657.8 1487.7,659.1 1490.3,660.4 1492.9,661.9 1495.5,663.4 1498.1,665.0 1500.7,666.5 1503.2,668.1 1505.8,669.7 1508.3,671.3 1510.8,672.9 1513.4,674.5 1515.9,676.2 1518.4,677.8 1520.9,679.5 1523.4,681.2 1525.8,682.8 1528.3,684.5 1530.8,686.2 1533.3,687.9 1535.7,689.6 1538.2,691.3 1540.7,693.1 1543.1,694.8 1545.6,696.5 1548.0,698.2 1550.5,700.0 1552.9,701.7 1555.3,703.5 1557.8,705.3 1560.2,707.1 1562.6,708.9 1564.9,710.7 1567.3,712.5 1569.7,714.4 1572.0,716.2 1574.4,718.1 1576.7,720.0 1579.0,721.9 1581.2,723.9 1583.4,726.0 1585.6,728.1 1587.6,730.2 1589.7,732.4 1591.6,734.7 1593.5,737.0 1595.4,739.4 1597.2,741.8 1599.0,744.2 1600.7,746.6 1602.4,749.1 1604.1,751.6 1605.8,754.1 1607.4,756.6 1609.1,759.1 1610.7,761.6 1612.4,764.1 1614.1,766.6 1615.7,769.0 1617.4,771.5 1619.1,774.0 1620.9,776.4 1622.6,778.9 1624.4,781.3 1626.1,783.8 1627.9,786.2 1629.6,788.6 1631.4,791.0 1633.2,793.5 1634.9,795.9 1636.7,798.3 1638.4,800.8 1640.1,803.2 1641.9,805.7 1643.6,808.1 1645.3,810.6 1646.9,813.1 1648.6,815.6 1650.2,818.1 1651.9,820.6 1653.5,823.2 1655.1,825.7 1656.7,828.2 1658.3,830.8 1659.9,833.3 1661.4,835.9 1663.0,838.4 1664.6,841.0 1666.1,843.6 1667.7,846.1 1669.2,848.7 1670.8,851.3 1672.3,853.9 1673.8,856.4 1675.3,859.0 1676.8,861.6 1678.3,864.2 1679.8,866.8 1681.3,869.4 1682.8,872.0 1684.3,874.6 1685.8,877.2 1687.3,879.9 1688.8,882.5 1690.2,885.1 1691.7,887.7 1693.2,890.3 1694.7,892.9 1696.2,895.5 1697.7,898.1 1699.2,900.7 1700.7,903.3 1702.2,905.8 1703.7,908.4 1705.3,911.0 1706.8,913.6 1708.3,916.2 1709.7,918.8 1711.2,921.4 1712.7,924.0 1714.2,926.6 1715.7,929.3 1717.2,931.9 1718.6,934.5 1720.1,937.1 1721.6,939.7 1723.0,942.4 1724.5,945.0 1725.9,947.6 1727.4,950.2 1728.8,952.8 1730.3,955.5 1731.8,958.1 1733.3,960.7 1734.8,963.3 1736.3,965.8 1737.9,968.4 1739.5,970.9 1741.1,973.5 1742.8,975.9 1744.5,978.4 1746.2,980.9 1748.0,983.3 1749.8,985.7 1751.5,988.1 1753.3,990.6 1755.1,993.0 1756.9,995.4 1758.7,997.7 1760.7,1000.0 1762.7,1002.1 1764.9,1004.2 1767.2,1006.0 1769.7,1007.7 1772.2,1009.3 1774.9,1010.7 1777.6,1012.0 1780.3,1013.3 1783.1,1014.4 1785.8,1015.6 1788.6,1016.7 1791.4,1017.7 1794.3,1018.5 1797.2,1019.1 1800.1,1019.4 1803.0,1019.4 1806.0,1019.0 1808.8,1018.2 1811.7,1017.3 1814.4,1016.2 1817.1,1014.9 1819.6,1013.4 1822.0,1011.7 1824.0,1009.6 1825.8,1007.3 1827.4,1004.8 1828.8,1002.1 1830.1,999.4 1831.3,996.7 1832.5,994.0 1833.7,991.2 1834.8,988.4 1836.0,985.7 1837.1,982.9 1838.2,980.1 1839.3,977.3 1840.4,974.5 1841.5,971.7 1842.5,968.9 1843.5,966.1 1844.5,963.2 1845.5,960.4 1846.5,957.6 1847.6,954.8 1848.6,952.0 1849.7,949.2 1850.9,946.4 1852.1,943.6 1853.3,940.9 1854.5,938.2 1855.7,935.4 1856.9,932.7 1858.1,929.9 1859.2,927.1 1860.3,924.3 1861.3,921.5 1862.3,918.7 1863.2,915.8 1864.2,913.0 1865.1,910.1 1866.0,907.3 1866.9,904.4 1867.8,901.6 1868.8,898.7 1869.7,895.9 1870.6,893.0 1871.5,890.1 1872.4,887.3 1873.3,884.4 1874.2,881.6 1875.1,878.7 1876.0,875.8 1877.0,873.0 1877.9,870.1 1878.8,867.3 1879.8,864.4 1880.8,861.6 1881.9,858.8 1882.9,856.0 1884.0,853.2 1885.2,850.4 1886.3,847.7 1887.5,844.9 1888.6,842.1 1889.7,839.3 1890.9,836.6 1891.9,833.8 1893.0,831.0 1894.0,828.1 1895.1,825.3 1896.1,822.5 1897.0,819.7 1898.0,816.8 1898.9,814.0 1899.9,811.1 1900.8,808.3 1901.8,805.4 1902.7,802.6 1903.6,799.7 1904.5,796.9 1905.4,794.0 1906.4,791.1 1907.3,788.3 1908.2,785.4 1909.1,782.6 1910.0,779.7 1910.9,776.9 1911.9,774.0 1912.8,771.2 1913.7,768.3 1914.6,765.4 1915.6,762.6 1916.5,759.7 1917.4,756.9 1918.4,754.0 1919.3,751.2 1920.3,748.4 1921.2,745.5 1922.2,742.7 1923.2,739.8 1924.2,737.0 1925.1,734.2 1926.1,731.3 1927.1,728.5 1928.1,725.7 1929.2,722.9 1930.2,720.0 1931.2,717.2 1932.2,714.4 1933.3,711.6 1934.3,708.8 1935.3,705.9 1936.4,703.1 1937.4,700.3 1938.5,697.5 1939.5,694.7 1940.6,691.9 1941.6,689.1 1942.7,686.3 1943.7,683.5 1944.8,680.7 1945.9,677.9 1946.9,675.1 1948.0,672.2 1949.1,669.4 1950.1,666.6 1951.2,663.8 1952.3,661.0 1953.3,658.2 1954.4,655.4 1955.5,652.6 1956.6,649.9 1957.8,647.1 1958.9,644.3 1960.1,641.5 1961.2,638.8 1962.4,636.0 1963.6,633.3 1964.8,630.5 1965.9,627.7 1967.1,625.0 1968.2,622.2 1969.3,619.4 1970.4,616.6 1971.5,613.8 1972.7,611.0 1973.8,608.3 1974.9,605.5 1976.1,602.7 1977.2,599.9 1978.4,597.2 1979.6,594.4 1980.8,591.7 1982.0,588.9 1983.2,586.2 1984.5,583.5 1985.8,580.8 1987.1,578.1 1988.5,575.4 1989.9,572.8 1991.3,570.1 1992.8,567.5 1994.3,564.9 1995.8,562.3 1997.3,559.7 1998.9,557.2 2000.5,554.7 2002.2,552.2 2003.8,549.7 2005.5,547.2 2007.2,544.7 2008.9,542.3 2010.7,539.8 2012.4,537.4 2014.2,534.9 2015.9,532.5 2017.7,530.1 2019.5,527.7 2021.3,525.3 2023.1,522.9 2025.0,520.6 2026.9,518.2 2028.8,515.9 2030.7,513.6 2032.7,511.4 2034.7,509.1 2036.8,506.9 2038.8,504.8 2041.0,502.7 2043.1,500.6 2045.4,498.6 2047.6,496.6 2049.9,494.7 2052.2,492.8 2054.6,490.9 2057.0,489.1 2059.4,487.3 2061.8,485.6 2064.2,483.8 2066.7,482.1 2069.2,480.4 2071.6,478.7 2074.1,477.0 2076.6,475.3 2079.1,473.6 2081.6,471.9 2084.1,470.3 2086.6,468.7 2089.1,467.1 2091.7,465.5 2094.2,463.9 2096.8,462.4 2099.4,460.8 2101.9,459.3 2104.5,457.8 2107.1,456.3 2109.7,454.8 2112.3,453.3 2115.0,451.8 2117.6,450.4 2120.2,448.9 2122.8,447.5 2125.5,446.0 2128.1,444.6 2130.8,443.2 2133.4,441.8 2136.1,440.5 2138.8,439.2 2141.6,438.0 2144.3,436.8 2147.1,435.8 2149.9,434.7 2152.8,433.8 2155.6,432.9 2158.5,432.0 2161.4,431.3 2164.3,430.5 2167.2,429.8 2170.2,429.2 2173.1,428.5 2176.0,427.9 2179.0,427.3 2181.9,426.7 2184.8,426.1 2187.8,425.5 2190.7,424.9 2193.7,424.3 2196.6,423.7 2199.6,423.1 2202.5,422.6 2205.5,422.1 2208.4,421.6 2211.4,421.1 2214.3,420.6 2217.3,420.1 2220.3,419.6 2223.2,419.2 2226.2,418.7 2229.2,418.3 2232.1,417.8 2235.1,417.4 2238.1,416.9 2241.0,416.5 2244.0,416.1 2247.0,415.7 2249.9,415.3 2252.9,414.9 2255.9,414.5 2258.9,414.2 2261.9,413.8 2264.8,413.5 2267.8,413.2 2270.8,412.9 2273.8,412.6 2276.8,412.3 2279.8,412.0 2282.7,411.8 2285.7,411.5 2288.7,411.2 2291.7,410.9 2294.7,410.7 2297.7,410.4 2300.7,410.0 2303.7,409.7 2306.6,409.4 2309.6,409.1 2312.6,408.7 2315.6,408.4 2318.6,408.0 2321.5,407.7 2323.5,407.5" stroke="#008000" stroke-width="23" stroke-linecap="round" stroke-linejoin="round" fill="none"/><path d="M180.5,727.0 183.3,728.2 185.9,729.5 188.5,731.0 191.1,732.6 193.6,734.2 196.1,735.9 198.5,737.7 200.9,739.5 203.2,741.3 205.5,743.3 207.7,745.3 209.9,747.4 212.0,749.5 214.1,751.7 216.1,753.8 218.2,756.0 220.3,758.2 222.4,760.3 224.5,762.5 226.6,764.6 228.8,766.7 230.9,768.7 233.1,770.8 235.4,772.8 237.7,774.7 240.0,776.5 242.5,778.3 245.0,779.9 247.6,781.4 250.2,782.8 252.9,784.1 255.7,785.2 258.5,786.2 261.3,787.0 264.3,787.7 267.2,788.2 270.2,788.6 273.2,788.9 276.1,789.2 279.1,789.4 282.1,789.6 285.1,789.9 288.1,790.2 291.1,790.5 294.1,790.8 297.0,791.2 300.0,791.6 303.0,792.1 305.9,792.6 308.9,793.2 311.8,793.9 314.7,794.6 317.6,795.3 320.5,796.1 323.4,796.9 326.3,797.7 329.2,798.4 332.1,799.2 335.0,799.9 337.9,800.6 340.9,801.2 343.8,801.7 346.8,802.1 349.7,802.3 352.7,802.4 355.7,802.6 358.7,803.0 361.6,803.5 364.6,804.0 367.5,804.7 370.4,805.4 373.3,806.1 376.2,806.8 379.1,807.5 382.0,808.3 384.9,809.0 387.8,809.8 390.7,810.6 393.6,811.4 396.5,812.2 399.4,813.0 402.3,813.9 405.1,814.8 408.0,815.7 410.9,816.6 413.7,817.5 416.6,818.4 419.4,819.4 422.2,820.4 425.1,821.4 427.9,822.4 430.7,823.4 433.5,824.5 436.3,825.6 439.0,826.8 441.7,828.1 444.4,829.5 447.1,830.9 449.7,832.3 452.4,833.6 455.1,834.9 457.8,836.3 460.5,837.5 463.2,838.8 465.9,840.1 468.6,841.4 471.3,842.7 474.0,844.0 476.7,845.3 479.5,846.6 482.2,847.8 484.9,849.1 487.6,850.4 490.3,851.7 493.0,852.9 495.7,854.2 498.5,855.5 501.2,856.8 503.9,858.1 506.6,859.4 509.3,860.7 512.0,862.0 514.7,863.3 517.4,864.6 520.0,866.0 522.7,867.3 525.4,868.7 528.1,870.0 530.8,871.4 533.5,872.7 536.2,874.0 538.9,875.3 541.6,876.5 544.3,877.8 547.1,879.0 549.8,880.2 552.5,881.4 555.3,882.6 558.1,883.8 560.8,885.0 563.6,886.1 566.4,887.2 569.2,888.3 572.0,889.3 574.9,890.3 577.7,891.2 580.6,892.1 583.4,892.9 586.3,893.7 589.2,894.5 592.1,895.2 595.1,895.9 598.0,896.6 600.9,897.2 603.9,897.8 606.8,898.4 609.8,898.9 612.7,899.4 615.7,899.8 618.7,900.2 621.6,900.4 624.6,900.6 627.6,900.7 630.6,900.7 633.6,900.5 636.6,900.2 639.6,899.9 642.6,899.5 645.5,899.2 648.5,898.8 651.5,898.4 654.5,898.0 657.4,897.6 660.4,897.2 663.4,896.7 666.3,896.3 669.3,895.8 672.2,895.3 675.2,894.8 678.1,894.2 681.1,893.6 684.0,893.0 686.9,892.3 689.8,891.6 692.7,890.8 695.6,889.9 698.4,889.0 701.3,888.0 704.1,886.9 706.9,885.8 709.6,884.6 712.4,883.4 715.1,882.2 717.8,880.9 720.5,879.6 723.2,878.3 725.9,877.0 728.6,875.7 731.3,874.3 734.0,873.0 736.6,871.6 739.3,870.2 741.9,868.8 744.6,867.3 747.2,865.9 749.8,864.4 752.4,862.9 755.0,861.4 757.6,860.0 760.3,858.5 762.9,857.1 765.6,855.7 768.2,854.3 770.8,852.9 773.5,851.5 776.2,850.1 778.8,848.7 781.5,847.3 784.1,845.9 786.8,844.5 789.5,843.2 792.2,841.8 794.9,840.5 797.6,839.2 800.3,837.9 803.0,836.6 805.7,835.4 808.4,834.2 811.2,833.0 813.9,831.8 816.7,830.6 819.5,829.4 822.2,828.3 825.0,827.1 827.8,825.9 830.5,824.8 833.3,823.6 836.1,822.5 838.8,821.3 841.6,820.1 844.3,818.9 847.1,817.8 849.9,816.6 852.6,815.4 855.4,814.2 858.1,813.0 860.9,811.8 863.7,810.7 866.4,809.5 869.2,808.4 872.0,807.3 874.8,806.2 877.6,805.1 880.4,804.1 883.2,803.1 886.1,802.2 888.9,801.2 891.8,800.4 894.7,799.5 897.6,798.8 900.5,798.0 903.4,797.3 906.3,796.6 909.3,796.0 912.2,795.4 915.1,794.7 918.1,794.2 921.0,793.6 924.0,793.0 926.9,792.5 929.9,792.0 932.8,791.5 935.8,791.0 938.8,790.6 941.7,790.1 944.7,789.7 947.7,789.3 950.6,789.0 953.6,788.6 956.6,788.3 959.6,788.0 962.6,787.7 965.6,787.5 968.6,787.3 971.6,787.1 974.6,787.0 977.6,786.9 980.6,786.8 983.5,786.7 986.5,786.7 989.5,786.7 992.5,786.7 995.5,786.8 998.5,786.8 1001.5,786.9 1004.5,787.1 1007.5,787.2 1010.5,787.4 1013.5,787.6 1016.5,787.8 1019.5,788.0 1022.5,788.2 1025.5,788.5 1028.5,788.8 1031.5,789.1 1034.4,789.4 1037.4,789.8 1040.4,790.2 1043.4,790.6 1046.3,791.0 1049.3,791.4 1052.3,791.9 1055.2,792.4 1058.2,792.9 1061.1,793.5 1064.1,794.1 1067.0,794.7 1069.9,795.3 1072.9,796.0 1075.8,796.6 1078.7,797.3 1081.6,798.0 1084.5,798.7 1087.5,799.4 1090.4,800.1 1093.3,800.8 1096.2,801.4 1099.2,802.1 1102.1,802.8 1105.0,803.4 1107.9,804.1 1110.9,804.8 1113.8,805.5 1116.7,806.2 1119.6,806.9 1122.5,807.6 1125.4,808.3 1128.3,809.0 1131.2,809.8 1134.1,810.6 1137.0,811.4 1139.9,812.2 1142.8,813.1 1145.7,814.0 1148.5,814.9 1151.4,815.8 1154.2,816.8 1157.0,817.9 1159.7,819.1 1162.5,820.3 1165.2,821.6 1167.8,823.0 1170.4,824.5 1173.0,826.0 1175.5,827.6 1178.0,829.3 1180.5,831.0 1182.9,832.8 1185.3,834.5 1187.7,836.4 1190.1,838.2 1192.4,840.1 1194.7,842.0 1197.0,843.9 1199.3,845.9 1201.5,847.9 1203.7,850.0 1205.8,852.1 1207.8,854.3 1209.8,856.6 1211.7,858.9 1213.5,861.2 1215.3,863.6 1217.1,866.0 1218.9,868.5 1220.7,870.9 1222.4,873.3 1224.2,875.7 1225.9,878.2 1227.6,880.7 1229.2,883.2 1230.8,885.7 1232.3,888.3 1233.8,890.9 1235.3,893.6 1236.7,896.2 1238.1,898.8 1239.5,901.5 1240.9,904.2 1242.3,906.8 1243.6,909.5 1245.0,912.2 1246.3,914.9 1247.7,917.5 1249.0,920.2 1250.3,922.9 1251.6,925.6 1252.9,928.3 1254.2,931.1 1255.4,933.8 1256.6,936.5 1257.9,939.3 1259.1,942.0 1260.3,944.7 1261.5,947.5 1262.7,950.2 1263.9,953.0 1265.2,955.7 1266.4,958.4 1267.7,961.1 1269.0,963.8 1270.4,966.5 1271.9,969.1 1273.4,971.7 1275.1,974.1 1276.9,976.5 1278.9,978.8 1280.9,981.0 1283.1,983.0 1285.5,984.6 1288.1,984.3 1289.6,981.8 1290.7,979.0 1291.7,976.2 1292.7,973.4 1293.6,970.6 1294.2,967.7 1294.7,964.7 1295.1,961.7 1295.4,958.8 1295.8,955.8 1296.1,952.8 1296.4,949.8 1296.7,946.8 1297.0,943.8 1297.3,940.9 1297.6,937.9 1297.9,934.9 1298.3,931.9 1298.6,928.9 1298.9,925.9 1299.3,923.0 1299.6,920.0 1300.0,917.0 1300.3,914.0 1300.7,911.1 1301.1,908.1 1301.5,905.1 1301.9,902.1 1302.2,899.2 1302.6,896.2 1303.0,893.2 1303.3,890.2 1303.6,887.2 1304.0,884.3 1304.3,881.3 1304.6,878.3 1304.9,875.3 1305.2,872.3 1305.5,869.3 1305.8,866.3 1306.1,863.4 1306.4,860.4 1306.7,857.4 1307.0,854.4 1307.3,851.4 1307.6,848.4 1307.9,845.5 1308.3,842.5 1308.6,839.5 1308.9,836.5 1309.3,833.5 1309.6,830.5 1310.0,827.6 1310.4,824.6 1310.8,821.6 1311.2,818.7 1311.8,815.7 1312.4,812.8 1313.2,809.9 1314.3,807.1 1315.7,804.5 1317.7,802.3 1320.3,800.8 1323.1,800.0 1326.1,799.7 1329.1,799.4 1332.1,799.2 1335.1,799.1 1338.1,799.0 1341.1,799.0 1344.1,799.2 1347.1,799.3 1350.1,799.6 1353.0,799.8 1356.0,800.2 1359.0,800.5 1362.0,800.9 1365.0,801.3 1367.9,801.7 1370.9,802.1 1373.9,802.5 1376.8,802.9 1379.8,803.3 1382.8,803.7 1385.8,804.0 1388.8,804.4 1391.7,804.7 1394.7,804.9 1397.7,805.2 1400.7,805.5 1403.7,805.7 1406.7,806.0 1409.7,806.4 1412.6,806.7 1415.6,807.1 1418.6,807.6 1421.5,808.1 1424.5,808.6 1427.4,809.2 1430.3,809.9 1433.3,810.6 1436.2,811.3 1439.1,812.0 1442.0,812.8 1444.9,813.5 1447.8,814.3 1450.7,815.2 1453.5,816.0 1456.4,816.9 1459.2,817.8 1462.1,818.8 1464.9,819.9 1467.6,821.1 1470.4,822.3 1473.1,823.6 1475.7,825.0 1478.4,826.3 1481.2,827.5 1483.9,828.7 1486.6,830.0 1489.2,831.4 1491.8,832.9 1494.3,834.5 1496.8,836.2 1499.2,838.0 1501.7,839.7 1504.1,841.5 1506.5,843.3 1508.9,845.1 1511.3,846.9 1513.7,848.7 1516.0,850.6 1518.4,852.4 1520.7,854.3 1523.1,856.2 1525.4,858.1 1527.7,860.0 1529.9,862.0 1532.2,864.0 1534.4,866.0 1536.5,868.1 1538.7,870.2 1540.8,872.3 1542.9,874.5 1544.9,876.7 1546.9,878.9 1548.9,881.2 1550.8,883.5 1552.7,885.8 1554.6,888.1 1556.5,890.5 1558.3,892.8 1560.2,895.2 1562.0,897.6 1563.7,900.0 1565.5,902.5 1567.2,904.9 1568.9,907.4 1570.6,909.9 1572.2,912.4 1573.9,914.9 1575.4,917.4 1577.0,920.0 1578.5,922.6 1580.0,925.2 1581.5,927.8 1582.9,930.5 1584.2,933.1 1585.6,935.8 1586.9,938.5 1588.1,941.3 1589.4,944.0 1590.6,946.7 1591.8,949.5 1593.0,952.2 1594.2,955.0 1595.4,957.7 1596.6,960.4 1597.9,963.2 1599.1,965.9 1600.4,968.6 1601.6,971.4 1602.9,974.1 1604.2,976.8 1605.4,979.5 1606.7,982.2 1607.9,985.0 1609.2,987.7 1610.4,990.4 1611.7,993.2 1612.9,995.9 1614.1,998.6 1615.3,1001.4 1616.5,1004.2 1617.6,1006.9 1618.8,1009.7 1620.0,1012.5 1621.1,1015.2 1622.2,1018.0 1623.4,1020.8 1624.5,1023.6 1625.6,1026.4 1626.7,1029.2 1627.8,1031.9 1628.8,1034.7 1629.9,1037.5 1631.0,1040.4 1632.0,1043.2 1633.1,1046.0 1634.1,1048.8 1635.2,1051.6 1636.2,1054.4 1637.2,1057.2 1638.3,1060.1 1639.3,1062.9 1640.3,1065.7 1641.3,1068.5 1642.3,1071.3 1643.3,1074.2 1644.3,1077.0 1645.3,1079.8 1646.3,1082.6 1647.4,1085.5 1648.4,1088.3 1649.4,1091.1 1650.4,1093.9 1651.4,1096.8 1652.5,1099.6 1653.6,1102.4 1654.7,1105.1 1655.8,1107.9 1657.0,1110.7 1658.0,1113.5 1659.1,1116.3 1660.1,1119.1 1661.0,1122.0 1662.0,1124.8 1662.9,1127.7 1663.9,1130.5 1664.8,1133.4 1665.8,1136.2 1666.7,1139.1 1667.6,1141.9 1668.5,1144.8 1669.5,1147.6 1670.4,1150.5 1671.3,1153.3 1672.2,1156.2 1673.2,1159.0 1674.1,1161.9 1675.0,1164.8 1675.9,1167.6 1676.8,1170.5 1677.7,1173.3 1678.6,1176.2 1679.5,1179.1 1680.4,1181.9 1681.3,1184.8 1682.1,1187.7 1683.0,1190.5 1683.9,1193.4 1684.7,1196.3 1685.6,1199.2 1686.4,1202.0 1687.3,1204.9 1688.1,1207.8 1688.9,1210.7 1689.8,1213.6 1690.6,1216.5 1691.4,1219.3 1692.2,1222.2 1693.0,1225.1 1693.8,1228.0 1694.6,1230.9 1695.4,1233.8 1696.2,1236.7 1697.0,1239.6 1697.8,1242.5 1698.5,1245.4 1699.3,1248.3 1700.1,1251.2 1700.9,1254.1 1701.7,1257.0 1702.5,1259.9 1703.2,1262.7 1704.0,1265.6 1704.8,1268.5 1705.6,1271.4 1706.4,1274.3 1707.2,1277.2 1708.0,1280.1 1708.8,1283.0 1709.6,1285.9 1710.4,1288.8 1711.2,1291.7 1712.0,1294.6 1712.7,1297.5 1713.5,1300.4 1714.2,1303.3 1715.0,1306.2 1715.7,1309.1 1716.5,1312.0 1717.2,1314.9 1717.9,1317.8 1718.7,1320.7 1719.4,1323.6 1720.1,1326.5 1720.9,1329.5 1721.6,1332.4 1722.4,1335.3 1723.1,1338.2 1723.9,1341.1 1724.7,1344.0 1725.4,1346.9 1726.2,1349.8 1727.0,1352.7 1727.8,1355.6 1728.6,1358.4 1729.4,1361.3 1730.2,1364.2 1730.9,1367.1 1731.7,1370.0 1732.5,1372.9 1733.3,1375.8 1734.1,1378.7 1734.9,1381.6 1735.7,1384.5 1736.5,1387.4 1737.3,1390.3 1738.1,1393.2 1738.9,1396.0 1739.7,1398.9 1740.6,1401.8 1741.4,1404.7 1742.2,1407.6 1743.1,1410.5 1743.9,1413.4 1744.7,1416.2 1745.6,1419.1 1746.5,1422.0 1747.4,1424.8 1748.3,1427.7 1749.2,1430.6 1750.1,1433.4 1751.0,1436.3 1752.0,1439.1 1752.9,1441.9 1753.9,1444.8 1754.9,1447.6 1755.9,1450.4 1757.0,1453.2 1758.0,1456.1 1759.1,1458.9 1760.2,1461.6 1761.4,1464.4 1762.6,1467.2 1763.8,1469.9 1765.0,1472.6 1766.3,1475.3 1767.7,1478.0 1769.1,1480.6 1770.7,1483.2 1772.4,1485.7 1774.1,1488.1 1776.0,1490.4 1778.0,1492.6 1780.1,1494.8 1782.3,1496.8 1784.6,1498.7 1787.0,1500.4 1789.6,1502.0 1792.2,1503.4 1794.9,1504.6 1797.7,1505.5 1800.5,1505.9 1803.4,1505.9 1806.1,1505.3 1808.7,1504.2 1811.0,1502.6 1812.9,1500.5 1814.5,1498.0 1815.7,1495.4 1816.8,1492.6 1817.8,1489.8 1818.7,1486.9 1819.5,1484.1 1820.4,1481.2 1821.2,1478.3 1822.1,1475.4 1823.0,1472.6 1823.8,1469.7 1824.7,1466.8 1825.6,1464.0 1826.5,1461.1 1827.4,1458.2 1828.2,1455.3 1829.1,1452.5 1829.9,1449.6 1830.7,1446.7 1831.5,1443.8 1832.3,1440.9 1833.1,1438.0 1833.8,1435.1 1834.5,1432.2 1835.2,1429.3 1835.8,1426.3 1836.5,1423.4 1837.1,1420.5 1837.7,1417.5 1838.3,1414.6 1838.9,1411.6 1839.4,1408.7 1840.0,1405.8 1840.6,1402.8 1841.1,1399.9 1841.7,1396.9 1842.2,1394.0 1842.8,1391.0 1843.3,1388.1 1843.9,1385.1 1844.4,1382.2 1844.9,1379.2 1845.5,1376.3 1846.0,1373.3 1846.5,1370.3 1847.0,1367.4 1847.6,1364.4 1848.1,1361.5 1848.6,1358.5 1849.1,1355.6 1849.7,1352.6 1850.2,1349.7 1850.7,1346.7 1851.2,1343.8 1851.7,1340.8 1852.2,1337.8 1852.7,1334.9 1853.2,1331.9 1853.7,1329.0 1854.2,1326.0 1854.7,1323.0 1855.2,1320.1 1855.6,1317.1 1856.1,1314.2 1856.6,1311.2 1857.1,1308.2 1857.5,1305.3 1858.0,1302.3 1858.5,1299.4 1859.0,1296.4 1859.6,1293.4 1860.1,1290.5 1860.6,1287.5 1861.2,1284.6 1861.7,1281.6 1862.2,1278.7 1862.7,1275.7 1863.2,1272.8 1863.7,1269.8 1864.2,1266.9 1864.7,1263.9 1865.2,1260.9 1865.7,1258.0 1866.2,1255.0 1866.7,1252.1 1867.2,1249.1 1867.7,1246.1 1868.2,1243.2 1868.6,1240.2 1869.1,1237.3 1869.6,1234.3 1870.1,1231.3 1870.6,1228.4 1871.1,1225.4 1871.6,1222.5 1872.0,1219.5 1872.5,1216.5 1873.0,1213.6 1873.5,1210.6 1873.9,1207.6 1874.4,1204.7 1874.8,1201.7 1875.3,1198.8 1875.8,1195.8 1876.2,1192.8 1876.6,1189.9 1877.1,1186.9 1877.5,1183.9 1877.9,1180.9 1878.4,1178.0 1878.8,1175.0 1879.2,1172.0 1879.6,1169.1 1880.0,1166.1 1880.5,1163.1 1880.9,1160.2 1881.3,1157.2 1881.7,1154.2 1882.1,1151.2 1882.5,1148.3 1882.9,1145.3 1883.3,1142.3 1883.8,1139.4 1884.2,1136.4 1884.6,1133.4 1885.0,1130.4 1885.4,1127.5 1885.9,1124.5 1886.3,1121.5 1886.7,1118.6 1887.2,1115.6 1887.6,1112.6 1888.0,1109.7 1888.5,1106.7 1888.9,1103.7 1889.4,1100.8 1889.8,1097.8 1890.3,1094.8 1890.7,1091.9 1891.2,1088.9 1891.6,1085.9 1892.1,1083.0 1892.5,1080.0 1893.0,1077.0 1893.4,1074.1 1893.9,1071.1 1894.3,1068.1 1894.8,1065.2 1895.2,1062.2 1895.7,1059.2 1896.1,1056.3 1896.5,1053.3 1897.0,1050.3 1897.4,1047.4 1897.8,1044.4 1898.3,1041.4 1898.7,1038.5 1899.1,1035.5 1899.5,1032.5 1899.9,1029.5 1900.3,1026.6 1900.7,1023.6 1901.1,1020.6 1901.5,1017.6 1901.9,1014.7 1902.3,1011.7 1902.7,1008.7 1903.0,1005.7 1903.4,1002.8 1903.8,999.8 1904.2,996.8 1904.6,993.8 1905.0,990.9 1905.4,987.9 1905.9,984.9 1906.3,982.0 1906.7,979.0 1907.2,976.0 1907.6,973.1 1908.1,970.1 1908.6,967.1 1909.1,964.2 1909.5,961.2 1910.1,958.3 1910.6,955.3 1911.1,952.4 1911.6,949.4 1912.2,946.4 1912.7,943.5 1913.3,940.6 1913.9,937.6 1914.4,934.7 1915.0,931.7 1915.6,928.8 1916.1,925.8 1916.7,922.9 1917.3,919.9 1917.9,917.0 1918.4,914.0 1919.0,911.1 1919.6,908.2 1920.2,905.2 1920.7,902.3 1921.3,899.3 1921.9,896.4 1922.4,893.4 1923.0,890.5 1923.5,887.5 1924.0,884.6 1924.6,881.6 1925.1,878.7 1925.6,875.7 1926.1,872.8 1926.6,869.8 1927.1,866.8 1927.6,863.9 1928.1,860.9 1928.6,858.0 1929.1,855.0 1929.6,852.0 1930.0,849.1 1930.5,846.1 1931.0,843.2 1931.4,840.2 1931.8,837.2 1932.2,834.2 1932.6,831.3 1932.9,828.3 1933.3,825.3 1933.7,822.3 1934.2,819.4 1934.8,816.4 1935.4,813.5 1936.1,810.6 1936.8,807.7 1937.5,804.8 1938.2,801.8 1938.9,798.9 1939.6,796.0 1940.4,793.1 1941.1,790.2 1941.9,787.3 1942.6,784.4 1943.4,781.5 1944.2,778.6 1944.9,775.7 1945.7,772.8 1946.5,769.9 1947.2,767.0 1948.0,764.1 1948.8,761.2 1949.5,758.3 1950.3,755.4 1951.1,752.5 1951.8,749.6 1952.6,746.7 1953.4,743.8 1954.2,740.9 1954.9,738.0 1955.7,735.1 1956.4,732.2 1957.2,729.3 1957.9,726.4 1958.6,723.5 1959.4,720.6 1960.1,717.6 1960.8,714.7 1961.6,711.8 1962.4,709.0 1963.3,706.1 1964.2,703.2 1965.1,700.4 1966.1,697.5 1967.1,694.7 1968.1,691.9 1969.2,689.1 1970.2,686.3 1971.3,683.5 1972.4,680.7 1973.5,677.9 1974.7,675.1 1975.9,672.4 1977.1,669.6 1978.3,666.9 1979.6,664.2 1980.9,661.5 1982.2,658.8 1983.6,656.1 1985.0,653.5 1986.4,650.8 1987.8,648.2 1989.3,645.6 1990.7,642.9 1992.2,640.3 1993.8,637.8 1995.3,635.2 1996.9,632.7 1998.6,630.2 2000.3,627.7 2002.0,625.2 2003.8,622.9 2005.7,620.6 2007.7,618.3 2009.8,616.1 2011.9,614.1 2014.2,612.1 2016.5,610.2 2019.0,608.5 2021.5,606.9 2024.0,605.3 2026.6,603.9 2029.3,602.5 2032.0,601.1 2034.7,599.8 2037.4,598.5 2040.1,597.3 2042.9,596.1 2045.6,595.0 2048.4,593.8 2051.2,592.7 2054.0,591.7 2056.8,590.6 2059.6,589.6 2062.5,588.6 2065.3,587.6 2068.1,586.6 2071.0,585.6 2073.8,584.7 2076.7,583.8 2079.6,582.9 2082.5,582.2 2085.4,581.6 2088.3,581.1 2091.3,580.7 2094.3,580.4 2097.3,580.1 2100.2,579.8 2103.2,579.4 2106.2,579.1 2109.2,578.8 2112.2,578.5 2115.2,578.2 2118.1,578.0 2121.1,577.7 2124.1,577.4 2127.1,577.1 2130.1,576.8 2133.1,576.5 2136.1,576.3 2139.1,576.0 2142.0,575.7 2145.0,575.4 2148.0,575.1 2151.0,574.8 2154.0,574.5 2157.0,574.2 2159.9,573.9 2162.9,573.6 2165.9,573.3 2168.9,572.9 2171.9,572.6 2174.9,572.3 2177.9,572.0 2180.8,571.7 2183.8,571.4 2186.8,571.1 2189.8,570.8 2192.8,570.4 2195.8,570.1 2198.7,569.8 2201.7,569.5 2204.7,569.2 2207.7,568.8 2210.7,568.5 2213.6,568.2 2216.6,567.9 2219.6,567.5 2222.6,567.2 2225.6,566.9 2228.6,566.5 2231.5,566.2 2234.5,565.9 2237.5,565.5 2240.5,565.2 2243.5,564.8 2246.4,564.5 2249.4,564.1 2252.4,563.8 2255.4,563.4 2258.4,563.1 2261.3,562.7 2264.3,562.4 2267.3,562.0 2270.3,561.7 2273.3,561.3 2276.2,560.9 2279.2,560.6 2282.2,560.2 2285.2,559.9 2288.1,559.5 2291.1,559.2 2294.1,558.9 2297.1,558.5 2300.1,558.2 2303.1,557.9 2306.0,557.6 2309.0,557.3 2312.0,557.0 2315.0,556.7 2318.0,556.5 2321.0,556.2 2323.0,556.0" stroke="#0000ff" stroke-width="23" stroke-linecap="round" stroke-linejoin="round" fill="none"/><line x1="351.4" y1="232.4" x2="283.2" y2="277.7" stroke="#111" stroke-width="2.4"/><path d="M269.9,286.6 L282.8,269.9 L290.3,281.1 Z" fill="#000"/><line x1="367.2" y1="249.3" x2="277.5" y2="408.1" stroke="#111" stroke-width="2.4"/><path d="M269.6,422.0 L273.6,401.3 L285.3,407.9 Z" fill="#000"/><line x1="389.6" y1="268.2" x2="274.9" y2="535.8" stroke="#111" stroke-width="2.4"/><path d="M268.6,550.5 L270.3,529.5 L282.7,534.8 Z" fill="#000"/><line x1="416.9" y1="268.2" x2="269.7" y2="750.7" stroke="#111" stroke-width="2.4"/><path d="M265.0,766.0 L264.4,744.9 L277.3,748.8 Z" fill="#000"/><line x1="2018.5" y1="968.8" x2="1780.4" y2="515.2" stroke="#111" stroke-width="2.4"/><path d="M1773.0,501.0 L1788.3,515.6 L1776.3,521.8 Z" fill="#000"/><line x1="1989.4" y1="996.0" x2="1774.8" y2="759.8" stroke="#111" stroke-width="2.4"/><path d="M1764.0,748.0 L1782.4,758.3 L1772.5,767.3 Z" fill="#000"/><line x1="1967.6" y1="1023.3" x2="1839.9" y2="1036.5" stroke="#111" stroke-width="2.4"/><path d="M1824.0,1038.2 L1843.2,1029.4 L1844.6,1042.8 Z" fill="#000"/><line x1="2017.3" y1="1076.6" x2="1843.8" y2="1490.8" stroke="#111" stroke-width="2.4"/><path d="M1837.6,1505.6 L1839.1,1484.5 L1851.6,1489.8 Z" fill="#000"/><line x1="467.8" y1="971.5" x2="804.2" y2="973.3" stroke="#111" stroke-width="5.5"/><path d="M821.0,973.4 L799.9,983.3 L800.1,963.3 Z" fill="#000"/><path d="M451.0,971.4 L472.1,961.5 L471.9,981.5 Z" fill="#000"/><line x1="1209.3" y1="1036.4" x2="1364.2" y2="1038.3" stroke="#111" stroke-width="5.5"/><path d="M1381.0,1038.5 L1359.9,1048.2 L1360.1,1028.2 Z" fill="#000"/><path d="M1192.5,1036.2 L1213.6,1026.5 L1213.4,1046.5 Z" fill="#000"/><text x="873.50" y="292.70" font-size="71.50" font-weight="bold" fill="#000000" textLength="339.54" lengthAdjust="spacingAndGlyphs" font-family="'Liberation Sans', Arial, sans-serif">PVA-ND/3</text><text x="867.39" y="450.20" font-size="71.50" font-weight="bold" fill="#ff1a1a" textLength="340.59" lengthAdjust="spacingAndGlyphs" font-family="'Liberation Sans', Arial, sans-serif">PVA-ND/2</text><text x="867.40" y="587.20" font-size="71.50" font-weight="bold" fill="#00843c" textLength="339.54" lengthAdjust="spacingAndGlyphs" font-family="'Liberation Sans', Arial, sans-serif">PVA-ND/1</text><text x="943.36" y="747.60" font-size="72.00" font-weight="bold" fill="#0000ff" textLength="139.46" lengthAdjust="spacingAndGlyphs" font-family="'Liberation Sans', Arial, sans-serif">PVA</text><text x="845.53" y="952.10" font-size="60.00" font-weight="normal" fill="#000" textLength="171.57" lengthAdjust="spacingAndGlyphs" font-family="'Liberation Sans', Arial, sans-serif">loss of</text><text x="826.00" y="1031.30" font-size="59.70" font-weight="normal" fill="#000" textLength="157.11" lengthAdjust="spacingAndGlyphs" font-family="'Liberation Sans', Arial, sans-serif">water</text><text x="2014.71" y="1044.20" font-size="62.10" font-weight="normal" fill="#000" textLength="235.63" lengthAdjust="spacingAndGlyphs" font-family="'Liberation Sans', Arial, sans-serif">pyrolysis</text><text x="374.19" y="224.50" font-size="98.30" font-weight="normal" fill="#000" textLength="54.97" lengthAdjust="spacingAndGlyphs" font-family="'Liberation Sans', Arial, sans-serif">T</text><text x="419.68" y="248.00" font-size="59.70" font-weight="normal" fill="#000" textLength="33.77" lengthAdjust="spacingAndGlyphs" font-family="'Liberation Sans', Arial, sans-serif">g</text><text x="1244.42" y="1147.80" font-size="98.10" font-weight="normal" fill="#000" textLength="53.68" lengthAdjust="spacingAndGlyphs" font-family="'Liberation Sans', Arial, sans-serif">T</text><text x="1291.91" y="1171.30" font-size="59.80" font-weight="normal" fill="#000" textLength="53.33" lengthAdjust="spacingAndGlyphs" font-family="'Liberation Sans', Arial, sans-serif">m</text><text x="145.11" y="1655.00" font-size="56.40" font-weight="normal" fill="#000" textLength="70.34" lengthAdjust="spacingAndGlyphs" font-family="'Liberation Sans', Arial, sans-serif">30</text><text x="434.78" y="1655.00" font-size="56.40" font-weight="normal" fill="#000" textLength="69.18" lengthAdjust="spacingAndGlyphs" font-family="'Liberation Sans', Arial, sans-serif">80</text><text x="708.19" y="1655.00" font-size="56.40" font-weight="normal" fill="#000" textLength="102.94" lengthAdjust="spacingAndGlyphs" font-family="'Liberation Sans', Arial, sans-serif">130</text><text x="1002.88" y="1655.00" font-size="56.40" font-weight="normal" fill="#000" textLength="104.90" lengthAdjust="spacingAndGlyphs" font-family="'Liberation Sans', Arial, sans-serif">180</text><text x="1297.93" y="1655.00" font-size="56.40" font-weight="normal" fill="#000" textLength="102.71" lengthAdjust="spacingAndGlyphs" font-family="'Liberation Sans', Arial, sans-serif">230</text><text x="1590.56" y="1655.00" font-size="56.40" font-weight="normal" fill="#000" textLength="101.54" lengthAdjust="spacingAndGlyphs" font-family="'Liberation Sans', Arial, sans-serif">280</text><text x="1881.63" y="1655.00" font-size="56.40" font-weight="normal" fill="#000" textLength="101.45" lengthAdjust="spacingAndGlyphs" font-family="'Liberation Sans', Arial, sans-serif">330</text><text x="2179.11" y="1655.00" font-size="56.40" font-weight="normal" fill="#000" textLength="100.50" lengthAdjust="spacingAndGlyphs" font-family="'Liberation Sans', Arial, sans-serif">380</text><text x="864.88" y="1739.30" font-size="78.90" font-weight="normal" fill="#000" textLength="608.17" lengthAdjust="spacingAndGlyphs" font-family="'Liberation Sans', Arial, sans-serif">Temperature (°C)</text><text x="0" y="0" font-size="79.20" font-weight="normal" fill="#000" textLength="574.30" lengthAdjust="spacingAndGlyphs" font-family="'Liberation Sans', Arial, sans-serif" transform="translate(91.90,1044.01) rotate(-90)">Heat Flow (W/g)</text><text x="0" y="0" font-size="63.10" font-weight="normal" fill="#000" textLength="188.66" lengthAdjust="spacingAndGlyphs" font-family="'Liberation Sans', Arial, sans-serif" transform="translate(132.80,1571.39) rotate(-90)">Exo Up</text></svg></body></html>
